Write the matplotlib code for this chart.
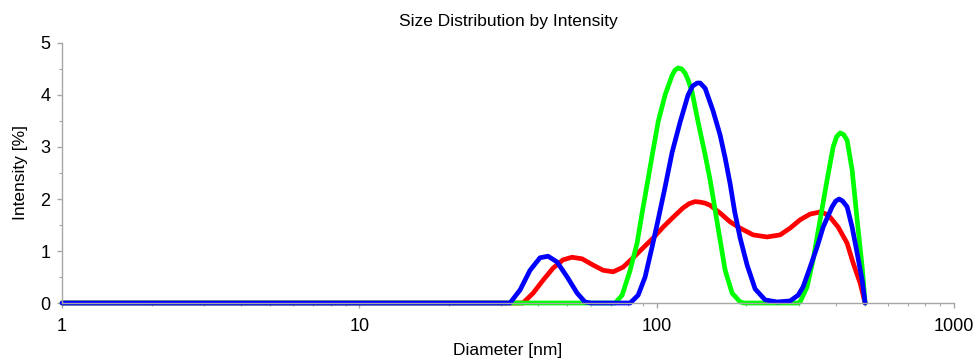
import matplotlib
matplotlib.use("Agg")
import matplotlib.pyplot as plt
from matplotlib.ticker import LogLocator, MultipleLocator, FixedFormatter, FixedLocator

plt.rcParams['font.family'] = ['Liberation Sans', 'DejaVu Sans']

# Size distributions (diameter in nm, intensity in %)
red_size = [1, 35.5, 38.4, 41.5, 44.8, 48.4, 51.9, 56.1, 61.1, 66.0, 71.4, 77.1, 83.3,
            90.0, 97.3, 105.1, 113.6, 122.7, 128.5, 134.6, 140.0, 145.5, 151.2, 163.4,
            176.6, 190.8, 211.0, 235.1, 260.1, 281.0, 303.6, 328.1, 354.5, 368.0,
            383.1, 407.6, 436.9, 457.8, 483.4, 502.3]
red_int = [0, 0, 0.19, 0.44, 0.67, 0.83, 0.88, 0.85, 0.73, 0.63, 0.60, 0.69, 0.87,
           1.06, 1.25, 1.46, 1.65, 1.83, 1.91, 1.95, 1.94, 1.92, 1.88, 1.73,
           1.56, 1.44, 1.31, 1.27, 1.31, 1.44, 1.60, 1.71, 1.75, 1.72,
           1.65, 1.46, 1.15, 0.77, 0.38, 0]

green_size = [1, 72.5, 76.5, 81.4, 85.9, 89.3, 92.8, 96.5, 101.1, 106.7, 112.7, 115.3,
              118.0, 121.4, 124.6, 127.5, 131.5, 137.8, 145.5, 151.2, 157.2, 163.4,
              169.9, 179.3, 190.8, 197.0, 299.0, 303.6, 320.5, 335.8, 354.5, 374.3,
              392.1, 403.0, 414.0, 425.0, 436.9, 454.2, 472.2, 490.9, 502.3]
green_int = [0, 0, 0.15, 0.63, 1.15, 1.73, 2.27, 2.83, 3.48, 4.00, 4.38, 4.48,
             4.52, 4.50, 4.42, 4.29, 4.06, 3.48, 2.85, 2.37, 1.79, 1.21,
             0.63, 0.19, 0.02, 0, 0, 0.02, 0.31, 0.83, 1.60, 2.37,
             3.00, 3.20, 3.27, 3.24, 3.13, 2.56, 1.60, 0.69, 0]

blue_size = [1, 32.1, 34.7, 37.5, 40.5, 43.1, 46.2, 50.0, 54.0, 57.4, 60.0, 81.4, 86.6,
             91.4, 96.5, 101.1, 106.7, 112.7, 119.9, 127.5, 132.0, 136.8, 140.0, 145.5,
             154.8, 163.4, 169.9, 176.6, 183.0, 190.8, 201.4, 214.3, 231.5, 254.1,
             281.0, 299.0, 310.7, 328.1, 346.4, 362.9, 389.0, 400.0, 410.8, 422.0,
             436.9, 454.2, 472.2, 490.9, 502.3]
blue_int = [0, 0, 0.25, 0.63, 0.87, 0.90, 0.79, 0.50, 0.19, 0.02, 0, 0, 0.15,
            0.50, 1.08, 1.60, 2.23, 2.90, 3.48, 4.00, 4.17, 4.23, 4.23, 4.13,
            3.69, 3.23, 2.79, 2.29, 1.75, 1.25, 0.73, 0.27, 0.06, 0.02,
            0.04, 0.15, 0.31, 0.69, 1.08, 1.46, 1.85, 1.96, 2.00, 1.96,
            1.85, 1.46, 0.96, 0.44, 0]

fig = plt.figure(figsize=(9.74, 3.60), dpi=100)
ax = fig.add_axes([0.0637, 0.1583, 0.9158, 0.7223])

lw = 3.4
for xs, ys, col in [(red_size, red_int, '#ff0000'),
                    (green_size, green_int, '#00ff00'),
                    (blue_size, blue_int, '#0000ff')]:
    ax.plot(xs, ys, color=col, lw=lw, clip_on=False,
            solid_joinstyle='round', solid_capstyle='round')

ax.set_xscale('log')
ax.set_xlim(1, 1000)
ax.set_ylim(0, 5)

ax.xaxis.set_major_locator(FixedLocator([1, 10, 100, 1000]))
ax.xaxis.set_major_formatter(FixedFormatter(['1', '10', '100', '1000']))
ax.xaxis.set_minor_locator(LogLocator(base=10, subs=range(2, 10)))
ax.xaxis.set_minor_formatter(plt.NullFormatter())
ax.yaxis.set_major_locator(MultipleLocator(1))
ax.yaxis.set_minor_locator(MultipleLocator(0.5))

for side in ['top', 'right']:
    ax.spines[side].set_visible(False)
for side in ['left', 'bottom']:
    ax.spines[side].set_color('#a6a6a6')
    ax.spines[side].set_linewidth(1.0)

ax.tick_params(which='both', direction='out', color='#a6a6a6', labelsize=13,
               labelcolor='black')
ax.tick_params(which='major', length=3.5, width=1.0)
ax.tick_params(axis='x', which='major', pad=7)
ax.tick_params(axis='y', which='major', pad=5)
ax.tick_params(which='minor', length=2.5, width=0.8)

ax.set_title('Size Distribution by Intensity', fontsize=12.5, pad=12)
ax.set_xlabel('Diameter [nm]', fontsize=12.5, labelpad=6)
ax.set_ylabel('Intensity [%]', fontsize=12.5, labelpad=9)

fig.savefig('out.png', dpi=100)
